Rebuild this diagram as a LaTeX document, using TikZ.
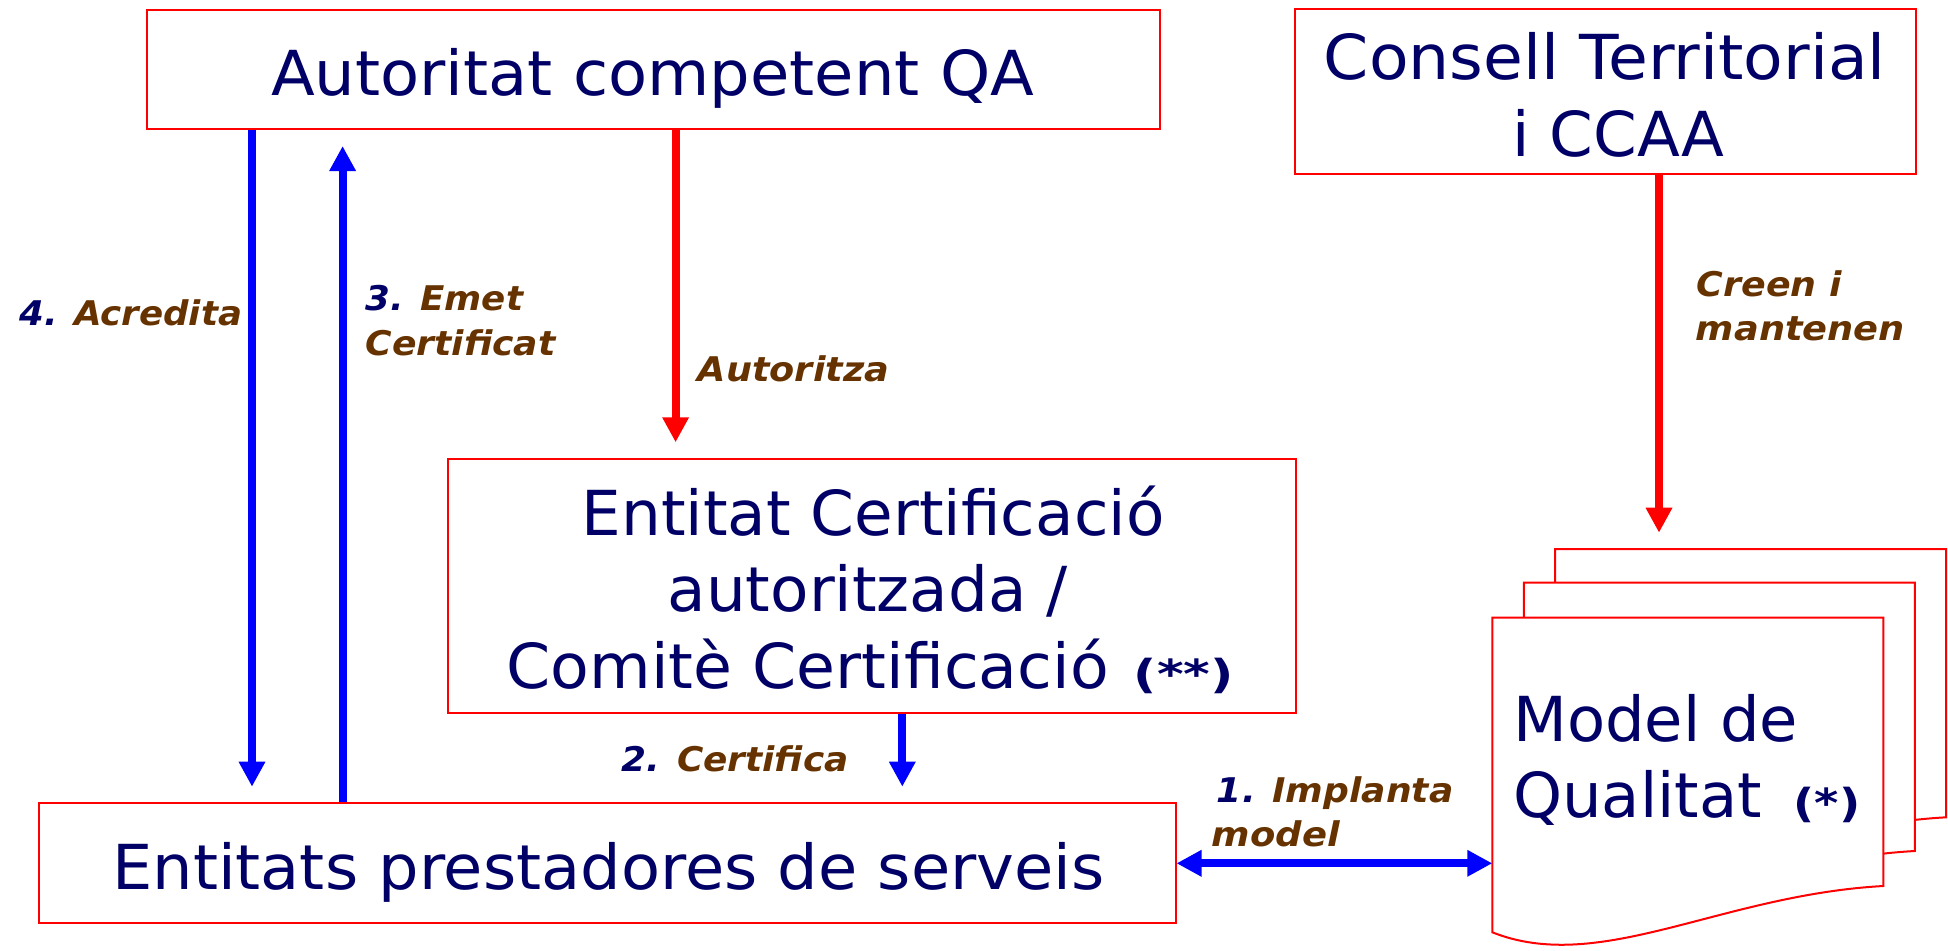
\documentclass[tikz,border=0pt]{standalone}
\usepackage{fontspec}
\setmainfont{DejaVu Sans}
\usepackage{graphicx}
\usetikzlibrary{arrows.meta,calc}
\definecolor{navy}{HTML}{000066}
\definecolor{lbrown}{HTML}{663300}
\definecolor{rd}{HTML}{FF0000}
\definecolor{bl}{HTML}{0000FF}
\newcommand\fitw[2]{\resizebox{#1pt}{\height}{#2}}
\newcommand\mainf{\fontsize{62}{74}\selectfont\color{navy}}
\newcommand\starf{\fontsize{40}{48}\selectfont\bfseries\color{navy}}
\newcommand\labf{\fontsize{34}{40}\selectfont\bfseries\itshape\color{lbrown}}
\newcommand\numc[1]{\textcolor{navy}{#1}}
\begin{document}
\begin{tikzpicture}[x=1pt,y=-1pt,
  box/.style={draw=rd, line width=2pt, rectangle, inner sep=0pt},
  txt/.style={inner sep=0pt, anchor=base west},
  barrow/.style={draw=bl, line width=8pt, -{Triangle[length=25pt,width=25pt]}},
  rarrow/.style={draw=rd, line width=8pt, -{Triangle[length=25pt,width=25pt]}},
  page/.style={draw=rd, line width=2pt, fill=white}]
\useasboundingbox (0,0) rectangle (1948,950);

% boxes
\node[box, minimum width=1013.1pt, minimum height=119pt] (autoritat) at (653.15,69.5) {};
\node[box, minimum width=621pt, minimum height=164.7pt] (consell) at (1605.5,91.65) {};
\node[box, minimum width=848pt, minimum height=254.3pt] (certif) at (872.3,586.15) {};
\node[box, minimum width=1136.5pt, minimum height=120pt] (entitats) at (607.25,863.3) {};

% document stack
\begin{scope}[shift={(62.7,-68.7)}]
  \path[page] (1492.3,617.7) -- (1883.3,617.7) -- (1883.3,886)
    .. controls (1720,895) and (1600,975) .. (1492.3,932.3) -- cycle;
\end{scope}
\begin{scope}[shift={(31.5,-35)}]
  \path[page] (1492.3,617.7) -- (1883.3,617.7) -- (1883.3,886)
    .. controls (1720,895) and (1600,975) .. (1492.3,932.3) -- cycle;
\end{scope}
\path[page] (1492.3,617.7) -- (1883.3,617.7) -- (1883.3,886)
    .. controls (1720,895) and (1600,975) .. (1492.3,932.3) -- cycle;

% box texts
\node[txt] (autoritatT) at (271,95) {\mainf\fitw{763}{Autoritat competent QA}};
\node[txt] (consellT1) at (1323.6,80) {\mainf\fitw{562}{Consell Territorial}};
\node[txt] (consellT2) at (1512.4,156) {\mainf\fitw{212}{i CCAA}};
\node[txt] (certifT1) at (581.5,535) {\mainf\fitw{582.7}{Entitat Certificació}};
\node[txt] (certifT2) at (667.5,611.7) {\mainf\fitw{400}{autoritzada /}};
\node[txt] (certifT3) at (506.6,688.3) {\mainf\fitw{602}{Comitè Certificació}};
\node[txt] (certifT4) at (1133.7,688.3) {\starf\fitw{100}{(**)}};
\node[txt] (entitatsT) at (112,889) {\mainf\fitw{992.6}{Entitats prestadores de serveis}};
\node[txt] (modelT1) at (1513,741.7) {\mainf\fitw{285}{Model de}};
\node[txt] (modelT2) at (1513,817) {\mainf\fitw{248.7}{Qualitat}};
\node[txt] (modelT3) at (1793.3,817) {\starf\fitw{66.7}{(*)}};

% connector reference points
\coordinate (xa) at (252,0);
\coordinate (xe) at (342.6,0);
\coordinate (xr) at (675.6,0);
\coordinate (xc) at (902.3,0);
\coordinate (docT) at (1659,549);
\coordinate (docL) at (1492.3,863.3);

% connectors
\draw[barrow] (autoritat.south -| xa) -- ($(entitats.north -| xa)+(0,-15.6)$);
\draw[barrow] (entitats.north -| xe) -- ($(autoritat.south -| xe)+(0,16)$);
\draw[rarrow] (autoritat.south -| xr) -- ($(certif.north -| xr)+(0,-15.7)$);
\draw[barrow] (certif.south -| xc) -- ($(entitats.north -| xc)+(0,-15.6)$);
\draw[rarrow] (consell.south -| docT) -- ($(docT)+(0,-16.3)$);
\draw[draw=bl, line width=8pt, {Triangle[length=25pt,width=25pt]}-{Triangle[length=25pt,width=25pt]}] (entitats.east) -- (docL);

% labels
\node[txt] (acredita) at (19,325.7) {\labf\fitw{223}{\numc{4.} Acredita}};
\node[txt] (emet1) at (365.4,310.7) {\labf\fitw{157.6}{\numc{3.} Emet}};
\node[txt] (emet2) at (365.4,355) {\labf\fitw{190}{Certificat}};
\node[txt] (autoritza) at (697.5,381) {\labf\fitw{191.5}{Autoritza}};
\node[txt] (creen1) at (1696.7,296) {\labf\fitw{145}{Creen i}};
\node[txt] (creen2) at (1695.7,340) {\labf\fitw{209}{mantenen}};
\node[txt] (certifica) at (621.7,771.7) {\labf\fitw{226.7}{\numc{2.} Certifica}};
\node[txt] (implanta1) at (1216.7,802.7) {\labf\fitw{236.6}{\numc{1.} Implanta}};
\node[txt] (implanta2) at (1211.7,846) {\labf\fitw{128}{model}};
\end{tikzpicture}
\end{document}
